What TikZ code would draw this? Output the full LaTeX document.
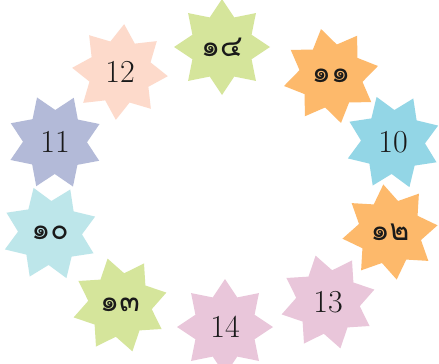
\documentclass[tikz,border=0pt]{standalone}
\usepackage{fontspec}
\newfontfamily\thaifont[Script=Thai]{Loma}
\usetikzlibrary{shapes.geometric}
\definecolor{cgreen}{HTML}{D5E59B}
\definecolor{corange}{HTML}{FDB96B}
\definecolor{cblue}{HTML}{93D6E6}
\definecolor{cpink}{HTML}{E9C6DA}
\definecolor{clblue}{HTML}{BDE6EA}
\definecolor{cslate}{HTML}{B3BAD8}
\definecolor{cpeach}{HTML}{FDDACB}
\definecolor{ctext}{HTML}{1A1A1A}
\tikzset{
  starbox/.style={star, star points=8, star point ratio=1.5, minimum size=96pt, inner sep=0pt, draw=none, fill=#1},
  lbl/.style={text=ctext, font=\fontsize{32}{34}\selectfont},
  tlbl/.style={text=ctext, font=\thaifont\fontsize{30}{32}\selectfont},
}
\begin{document}
\begin{tikzpicture}[x=1pt,y=-1pt]
\useasboundingbox (0,0) rectangle (439,364);
\fill[white] (0,0) rectangle (439,364);
\node[starbox=cgreen, shape border rotate=0] (s1) at (222,47) {};
\node[starbox=corange, shape border rotate=12] (s2) at (331,76) {};
\node[starbox=cblue, shape border rotate=20] (s3) at (393,142) {};
\node[starbox=corange, shape border rotate=8] (s4) at (390,232) {};
\node[starbox=cpink, shape border rotate=15] (s5) at (328,302) {};
\node[starbox=cpink, shape border rotate=0] (s6) at (225,327) {};
\node[starbox=cgreen, shape border rotate=15] (s7) at (120,305) {};
\node[starbox=clblue, shape border rotate=20] (s8) at (50,233) {};
\node[starbox=cslate, shape border rotate=22] (s9) at (55,142) {};
\node[starbox=cpeach, shape border rotate=-5] (s10) at (120,72) {};
\node[tlbl] (t1) at (s1) {๑๔};
\node[tlbl] (t2) at (s2) {๑๑};
\node[lbl] (t3) at (s3) {10};
\node[tlbl] (t4) at (s4) {๑๒};
\node[lbl] (t5) at (s5) {13};
\node[lbl] (t6) at (s6) {14};
\node[tlbl] (t7) at (s7) {๑๓};
\node[tlbl] (t8) at (s8) {๑๐};
\node[lbl] (t9) at (s9) {11};
\node[lbl] (t10) at (s10) {12};
\end{tikzpicture}
\end{document}
